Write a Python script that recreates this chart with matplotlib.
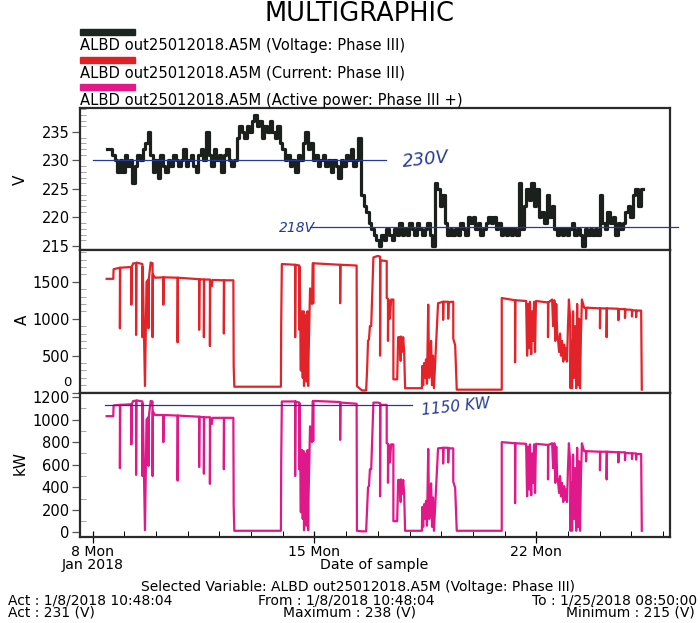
import numpy as np
import matplotlib
matplotlib.use('Agg')
import matplotlib.pyplot as plt
from matplotlib.patches import Rectangle
from matplotlib.ticker import MultipleLocator, FixedLocator

plt.rcParams['font.family'] = ['DejaVu Sans']

# ---------------- data ----------------
# Voltage Phase III, regular samples from Jan 8 10:48 to Jan 25 08:50 (day of January)
volt_start, volt_end = 8.45, 25.37
volt_v = [232, 232, 231, 230, 228, 230, 228, 231, 229, 230,
          226, 229, 231, 230, 232, 233, 235, 231, 228, 230,
          227, 231, 229, 228, 230, 229, 231, 230, 229, 230,
          232, 229, 230, 231, 229, 228, 231, 232, 230, 235,
          231, 229, 232, 230, 231, 228, 231, 232, 230, 229,
          230, 234, 236, 235, 234, 236, 235, 237, 238, 236,
          237, 234, 236, 235, 237, 235, 234, 236, 233, 232,
          230, 231, 229, 230, 228, 231, 230, 233, 235, 232,
          233, 230, 231, 229, 230, 231, 229, 230, 228, 230,
          229, 227, 230, 229, 231, 230, 232, 229, 230, 234,
          224, 222, 221, 219, 218, 217, 216, 215, 217, 216,
          218, 217, 216, 218, 217, 219, 217, 218, 217, 219,
          218, 217, 219, 218, 217, 218, 219, 217, 215, 226,
          225, 222, 224, 219, 217, 218, 217, 218, 217, 219,
          218, 217, 220, 219, 220, 218, 219, 217, 218, 219,
          220, 219, 220, 218, 219, 217, 218, 217, 218, 217,
          218, 217, 226, 218, 222, 225, 223, 226, 222, 225,
          220, 221, 219, 224, 220, 222, 218, 217, 218, 217,
          218, 217, 218, 219, 217, 218, 217, 215, 218, 217,
          218, 217, 218, 217, 224, 219, 218, 221, 219, 220,
          217, 219, 218, 219, 221, 222, 220, 224, 225, 222,
          225, 225]

# Current / active power samples (time in day of January 2018)
load_t = [8.44, 8.65, 8.66, 8.86, 8.86, 8.87, 9.22, 9.22, 9.23, 9.28,
          9.37, 9.37, 9.38, 9.57, 9.57, 9.58, 9.65, 9.70, 9.76, 9.76,
          9.77, 9.83, 9.89, 9.89, 9.90, 9.97, 10.23, 10.23, 10.24, 10.68,
          10.68, 10.69, 11.36, 11.36, 11.37, 11.51, 11.51, 11.52, 11.70, 11.70,
          11.71, 11.76, 11.78, 12.14, 12.14, 12.15, 12.44, 12.45, 12.47, 13.94,
          13.95, 13.97, 14.39, 14.39, 14.40, 14.52, 14.52, 14.53, 14.55, 14.57,
          14.58, 14.60, 14.61, 14.63, 14.64, 14.66, 14.67, 14.69, 14.70, 14.72,
          14.74, 14.75, 14.77, 14.78, 14.80, 14.81, 14.86, 14.92, 14.95, 14.96,
          14.97, 15.81, 15.81, 15.82, 16.33, 16.34, 16.50, 16.63, 16.66, 16.69,
          16.72, 16.75, 16.79, 16.86, 17.00, 17.07, 17.07, 17.08, 17.28, 17.28,
          17.32, 17.32, 17.33, 17.38, 17.42, 17.49, 17.49, 17.61, 17.64, 17.70,
          17.72, 17.73, 17.76, 17.80, 17.83, 17.86, 18.39, 18.40, 18.43, 18.46,
          18.49, 18.52, 18.55, 18.59, 18.62, 18.65, 18.68, 18.71, 18.74, 18.77,
          18.90, 19.06, 19.06, 19.07, 19.22, 19.22, 19.23, 19.38, 19.38, 19.44,
          19.49, 20.91, 20.91, 21.33, 21.33, 21.34, 21.68, 21.71, 21.74, 21.78,
          21.80, 21.84, 21.87, 21.90, 21.93, 21.96, 21.99, 22.37, 22.37, 22.38,
          22.50, 22.53, 22.57, 22.60, 22.63, 22.66, 22.69, 22.72, 22.75, 22.78,
          22.81, 22.85, 22.88, 22.91, 22.94, 22.97, 23.00, 23.03, 23.07, 23.08,
          23.10, 23.13, 23.16, 23.19, 23.22, 23.26, 23.29, 23.32, 23.35, 23.38,
          23.41, 23.44, 23.51, 23.57, 23.57, 23.58, 24.01, 24.01, 24.02, 24.22,
          24.22, 24.23, 24.59, 24.59, 24.60, 24.80, 24.80, 24.81, 25.02, 25.02,
          25.03, 25.15, 25.15, 25.16, 25.31, 25.33]

current_a = [1540, 1540, 1670, 1690, 870, 1690, 1700, 1190, 1700, 1750,
             1750, 780, 1760, 1740, 750, 1700, 90, 1500, 1530, 870,
             1530, 1760, 1750, 750, 1600, 1555, 1560, 1190, 1560, 1555,
             680, 1555, 1535, 850, 1535, 1530, 750, 1530, 1530, 630,
             1525, 1440, 1525, 1520, 800, 1520, 1520, 360, 80, 80,
             940, 1740, 1730, 750, 1730, 1720, 850, 1700, 1130, 300,
             1050, 900, 1100, 200, 1000, 1100, 90, 900, 1050, 400,
             1000, 150, 700, 1100, 90, 400, 1410, 1200, 1750, 1210,
             1750, 1730, 1210, 1730, 1720, 87, 30, 30, 300, 700,
             720, 900, 900, 1830, 1850, 1840, 500, 1790, 1780, 1280,
             1270, 700, 1260, 1000, 1260, 1260, 180, 180, 750, 750,
             430, 760, 550, 750, 550, 60, 60, 360, 100, 400,
             200, 450, 120, 1190, 200, 420, 700, 100, 500, 60,
             1210, 1230, 985, 1230, 1230, 1000, 1225, 1230, 730, 640,
             40, 40, 1280, 1250, 410, 1250, 1240, 500, 1200, 600,
             1230, 520, 1100, 700, 1230, 550, 1240, 1220, 750, 1220,
             1260, 900, 1250, 700, 1200, 800, 700, 550, 800, 500,
             700, 420, 650, 450, 600, 420, 900, 1260, 1000, 60,
             700, 60, 1100, 200, 900, 60, 1200, 100, 1000, 60,
             800, 1260, 1150, 1140, 1000, 1150, 1140, 870, 1140, 1140,
             750, 1140, 1135, 980, 1130, 1130, 1010, 1125, 1120, 1030,
             1115, 1110, 1020, 1110, 1110, 40]

power_kw = [1030, 1030, 1125, 1130, 570, 1130, 1135, 780, 1135, 1165,
            1165, 510, 1170, 1160, 500, 1140, 20, 1000, 1020, 590,
            1020, 1165, 1160, 500, 1070, 1040, 1040, 800, 1040, 1035,
            460, 1035, 1025, 580, 1025, 1020, 520, 1020, 1020, 430,
            1015, 960, 1015, 1015, 560, 1015, 1015, 240, 15, 15,
            630, 1160, 1160, 500, 1160, 1150, 560, 1140, 740, 180,
            700, 600, 730, 120, 660, 720, 20, 600, 700, 260,
            670, 60, 470, 730, 20, 270, 940, 800, 1165, 810,
            1165, 1155, 820, 1150, 1140, 15, 10, 10, 200, 400,
            410, 560, 560, 1150, 1150, 1145, 320, 1130, 1130, 790,
            785, 440, 780, 620, 780, 780, 100, 100, 465, 465,
            270, 470, 340, 465, 340, 15, 15, 225, 50, 250,
            120, 280, 60, 740, 120, 260, 435, 50, 310, 15,
            745, 750, 610, 750, 750, 620, 745, 745, 450, 395,
            15, 15, 800, 790, 260, 790, 785, 320, 760, 380,
            780, 330, 700, 440, 780, 350, 785, 775, 470, 775,
            790, 570, 790, 440, 760, 500, 440, 350, 500, 320,
            440, 270, 410, 290, 380, 270, 570, 790, 630, 15,
            440, 15, 690, 120, 570, 15, 750, 50, 630, 15,
            500, 790, 720, 715, 630, 720, 715, 550, 715, 715,
            470, 715, 710, 620, 710, 710, 640, 705, 700, 650,
            700, 700, 645, 695, 695, 15]

assert len(load_t) == len(current_a) == len(power_kw)

x_ticks = [8, 15, 22]
x_tick_labels = ['8 Mon\nJan 2018', '15 Mon', '22 Mon']

# ---------------- figure ----------------
W, H = 700, 623
fig = plt.figure(figsize=(7, 6.23), dpi=100)

def fx(px):
    return px / W

def fy(py):
    return 1 - py / H

L, R = 80, 670
def add_ax(top, bottom):
    return fig.add_axes([fx(L), fy(bottom), (R - L) / W, (bottom - top) / H])

ax1 = add_ax(108, 250)
ax2 = add_ax(250, 393)
ax3 = add_ax(393, 537)

volt_t = np.linspace(volt_start, volt_end, len(volt_v))
ax1.plot(volt_t, volt_v, drawstyle='steps-post', color='#1b201c', lw=2.3)
ax2.plot(load_t, current_a, color='#e3232a', lw=1.6)
ax3.plot(load_t, power_kw, color='#e0198a', lw=1.6)

blue = '#24399a'
ax1.plot([8.0, 17.26], [230, 230], color=blue, lw=0.9, zorder=3)
ax1.plot([14.86, 26.47], [218.4, 218.4], color=blue, lw=0.9, clip_on=False, zorder=3)
ax3.plot([8.39, 18.08], [1128, 1128], color=blue, lw=0.9, zorder=3)
ax1.text(18.5, 230.1, '230V', color=blue, fontsize=13, style='italic',
         ha='center', va='center', rotation=6)
ax1.text(14.45, 218.2, '218V', color=blue, fontsize=10, style='italic',
         ha='center', va='center')
ax3.text(19.47, 1110, '1150 KW', color=blue, fontsize=11, style='italic',
         ha='center', va='center', rotation=6)

for ax in (ax1, ax2, ax3):
    ax.set_xlim(7.6, 26.22)
    for s in ax.spines.values():
        s.set_linewidth(1.6)
        s.set_color('#2a2a2a')
    ax.tick_params(axis='y', which='major', direction='out', length=6, width=0.9,
                   pad=1.5, labelsize=10.5, color='#555555')
    ax.tick_params(axis='y', which='minor', direction='in', length=4, width=0.6,
                   color='#999999')

ax1.set_ylim(214.3, 239.2)
ax1.yaxis.set_major_locator(FixedLocator([215, 220, 225, 230, 235]))
ax1.yaxis.set_minor_locator(MultipleLocator(1))
ax2.set_ylim(-5, 1930)
ax2.yaxis.set_major_locator(FixedLocator([0, 500, 1000, 1500]))
ax2.set_yticklabels(['', '500', '1000', '1500'])
ax2.yaxis.set_minor_locator(MultipleLocator(100))
ax3.set_ylim(-40, 1235)
ax3.yaxis.set_major_locator(FixedLocator([0, 200, 400, 600, 800, 1000, 1200]))
ax3.yaxis.set_minor_locator(MultipleLocator(100))

for ax in (ax1, ax2):
    ax.tick_params(axis='x', which='both', bottom=False, labelbottom=False)

ax3.set_xticks(x_ticks)
ax3.set_xticklabels(x_tick_labels, linespacing=0.95)
ax3.xaxis.set_minor_locator(MultipleLocator(1))
ax3.tick_params(axis='x', which='major', direction='inout', length=8, width=0.9,
                pad=1.5, labelsize=10.2)
ax3.tick_params(axis='x', which='minor', direction='in', length=4, width=0.7)

# zero label of the current panel, lifted above the power panel's 1200
fig.text(fx(71.5), fy(383), '0', ha='right', va='center', fontsize=9.5)

# axis labels
fig.text(fx(20), fy(180), 'V', rotation=90, ha='center', va='center', fontsize=11)
fig.text(fx(22), fy(320), 'A', rotation=90, ha='center', va='center', fontsize=11)
fig.text(fx(20), fy(463), 'kW', rotation=90, ha='center', va='center', fontsize=11)
fig.text(fx(374), fy(564.5), 'Date of sample', ha='center', va='center', fontsize=10.2)

# title and legend
fig.text(fx(360), fy(14), 'MULTIGRAPHIC', ha='center', va='center', fontsize=18.5)
legend_items = [('#1c2620', 'ALBD out25012018.A5M (Voltage: Phase III)', 33),
                ('#e01f26', 'ALBD out25012018.A5M (Current: Phase III)', 61),
                ('#e3198a', 'ALBD out25012018.A5M (Active power: Phase III +)', 88)]
for col, txt, ybar in legend_items:
    fig.patches.append(Rectangle((fx(80), fy(ybar + 2)), 55 / W, 6 / H,
                                 transform=fig.transFigure, color=col))
    fig.text(fx(80), fy(ybar + 12.5), txt, ha='left', va='center', fontsize=10.6)

# footer
fs = 10
fig.text(fx(358), fy(587.5), 'Selected Variable: ALBD out25012018.A5M (Voltage: Phase III)',
         ha='center', va='center', fontsize=fs)
fig.text(fx(8), fy(600), 'Act : 1/8/2018 10:48:04', ha='left', va='center', fontsize=fs)
fig.text(fx(258), fy(600), 'From : 1/8/2018 10:48:04', ha='left', va='center', fontsize=fs)
fig.text(fx(697), fy(600), 'To : 1/25/2018 08:50:00', ha='right', va='center', fontsize=fs)
fig.text(fx(8), fy(612.5), 'Act : 231 (V)', ha='left', va='center', fontsize=fs)
fig.text(fx(283), fy(612.5), 'Maximum : 238 (V)', ha='left', va='center', fontsize=fs)
fig.text(fx(695), fy(612.5), 'Minimum : 215 (V)', ha='right', va='center', fontsize=fs)

fig.savefig('out.png', dpi=100)
